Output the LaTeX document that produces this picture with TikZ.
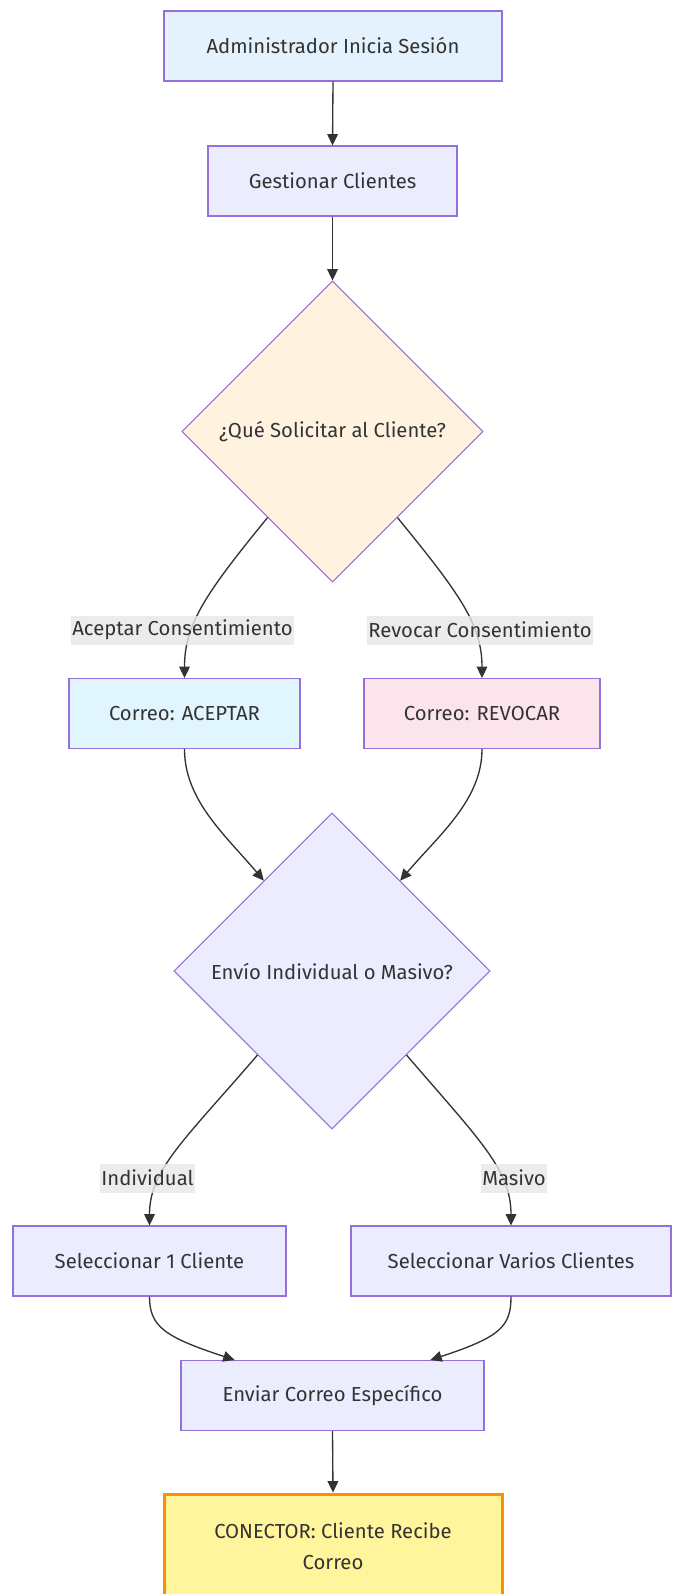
\documentclass[tikz,border=0pt]{standalone}
\usepackage{fontspec}
\setmainfont{Fira Sans}
\usetikzlibrary{shapes.geometric,arrows.meta,calc}
\definecolor{stk}{HTML}{9370DB}
\definecolor{txt}{HTML}{333333}
\definecolor{lnk}{HTML}{333333}
\definecolor{cTop}{HTML}{E3F2FD}
\definecolor{cDef}{HTML}{ECECFF}
\definecolor{cOrg}{HTML}{FFF3E0}
\definecolor{cAcc}{HTML}{E1F5FE}
\definecolor{cRev}{HTML}{FCE4EC}
\definecolor{cCon}{HTML}{FFF59D}
\definecolor{cConS}{HTML}{FF8F00}
\definecolor{cLbl}{HTML}{E8E8E8}
\begin{document}
\begin{tikzpicture}[x=0.75pt,y=-0.75pt,
  font=\fontsize{15.2}{23}\selectfont, text=txt,
  box/.style={draw=stk, line width=0.8pt, rectangle, inner sep=0pt, minimum height=52.5pt, align=center},
  dia/.style={draw=stk, line width=0.8pt, diamond, aspect=1, inner sep=0pt},
  lbl/.style={fill=cLbl, fill opacity=0.8, text opacity=1, inner xsep=1pt, inner ysep=0pt, minimum height=21.75pt},
  arr/.style={draw=lnk, line width=1pt, -{Triangle[length=8.5pt,width=8pt]}}]
\useasboundingbox (0,0) rectangle (672,1594);
\fill[white] (0,0) rectangle (672,1594);

\node[box, fill=cTop, minimum width=253.5pt] (top) at (333,46) {Administrador Inicia Sesión};
\node[box, fill=cDef, minimum width=186.75pt] (gest) at (332.5,181) {Gestionar Clientes};
\node[dia, fill=cOrg, minimum width=225.75pt, minimum height=225.75pt] (d1) at (332.5,431.5) {¿Qué Solicitar al Cliente?};
\node[box, fill=cAcc, minimum width=173.25pt] (acc) at (184.5,713.5) {Correo: ACEPTAR};
\node[box, fill=cRev, minimum width=177pt] (rev) at (482,713.5) {Correo: REVOCAR};
\node[dia, fill=cDef, minimum width=237pt, minimum height=237pt] (d2) at (332,971) {Envío Individual o Masivo?};
\node[box, fill=cDef, minimum width=204.75pt] (sel1) at (149.5,1261) {Seleccionar 1 Cliente};
\node[box, fill=cDef, minimum width=240pt] (selv) at (511,1261) {Seleccionar Varios Clientes};
\node[box, fill=cDef, minimum width=227.25pt] (env) at (332.5,1395.5) {Enviar Correo Específico};
\node[box, draw=cConS, line width=2.25pt, fill=cCon, minimum width=253.5pt, minimum height=78pt] (con) at (333,1546) {CONECTOR: Cliente Recibe\\Correo};

\coordinate (d1l) at ($(d1.west)!0.57!(d1.south)$);
\coordinate (d1r) at ($(d1.east)!0.57!(d1.south)$);
\coordinate (d2il) at ($(d2.north)!0.43!(d2.west)$);
\coordinate (d2ir) at ($(d2.north)!0.43!(d2.east)$);
\coordinate (d2l) at ($(d2.west)!0.53!(d2.south)$);
\coordinate (d2r) at ($(d2.east)!0.53!(d2.south)$);
\coordinate (envl) at ($(env.north west)!0.178!(env.north east)$);
\coordinate (envr) at ($(env.north west)!0.822!(env.north east)$);

\draw[arr] (top.south) -- (gest.north);
\draw[arr] (gest.south) -- (d1.north);
\draw[arr] (d1l) .. controls +(-63,77) and +(0,-53) .. (acc.north);
\draw[arr] (d1r) .. controls +(63,77) and +(0,-53) .. (rev.north);
\draw[arr] (acc.south) .. controls +(0,51) and +(-39,-46) .. (d2il);
\draw[arr] (rev.south) .. controls +(0,51) and +(39,-46) .. (d2ir);
\draw[arr] (d2l) .. controls +(-73,85) and +(0,-56) .. (sel1.north);
\draw[arr] (d2r) .. controls +(73,85) and +(0,-56) .. (selv.north);
\draw[arr] (sel1.south) .. controls +(0,30) and +(-70,-23) .. (envl);
\draw[arr] (selv.south) .. controls +(0,30) and +(70,-23) .. (envr);
\draw[arr] (env.south) -- (con.north);

\node[lbl] (la) at (182.5,630) {Aceptar Consentimiento};
\node[lbl] (lr) at (480,630) {Revocar Consentimiento};
\node[lbl] (li) at (147.5,1178) {Individual};
\node[lbl] (lm) at (514,1178) {Masivo};
\end{tikzpicture}
\end{document}
